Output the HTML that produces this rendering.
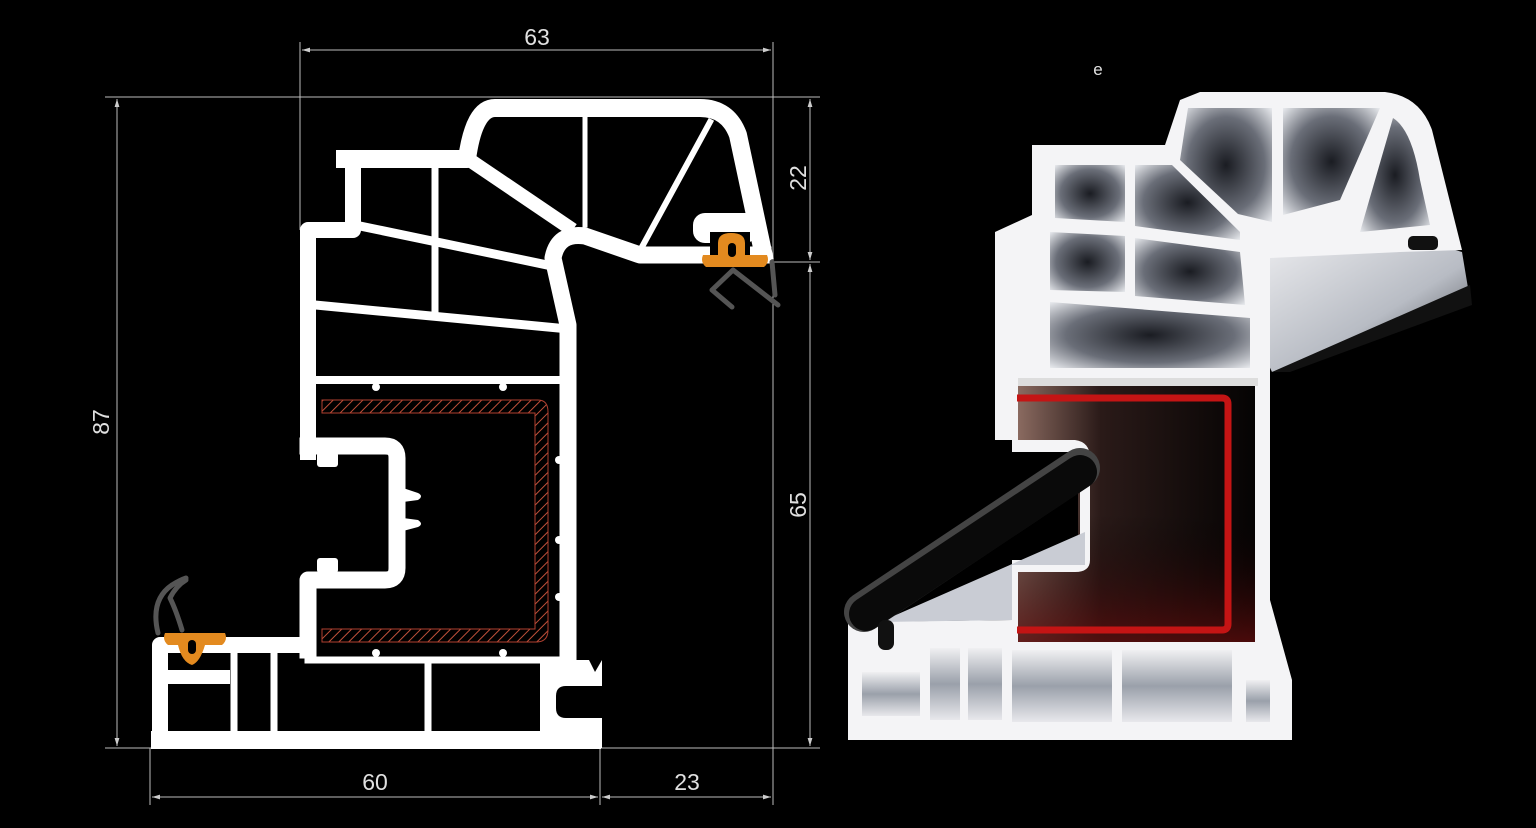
<!DOCTYPE html>
<html><head><meta charset="utf-8"><style>
html,body{margin:0;padding:0;background:#000;}
svg{display:block;}
text{font-family:"Liberation Sans",sans-serif;fill:#e0e0e0;}
</style></head><body>
<svg width="1536" height="828" viewBox="0 0 1536 828" xmlns="http://www.w3.org/2000/svg">
<defs>
<pattern id="hatch" width="7" height="7" patternUnits="userSpaceOnUse" patternTransform="rotate(45)">
<rect width="7" height="7" fill="#000"/><line x1="0" y1="0" x2="0" y2="7" stroke="#c0503a" stroke-width="2"/>
</pattern>
<radialGradient id="cell" cx="50%" cy="50%" r="70%"><stop offset="0" stop-color="#1a1c22"/><stop offset="0.6" stop-color="#6a6e78"/><stop offset="1" stop-color="#e6e8ec"/></radialGradient>
<linearGradient id="cellv" x1="0" y1="0" x2="0" y2="1"><stop offset="0" stop-color="#f0f0f2"/><stop offset="0.5" stop-color="#9aa0aa"/><stop offset="1" stop-color="#e8e8ec"/></linearGradient>
<linearGradient id="chamber" x1="0" y1="0" x2="1" y2="0"><stop offset="0" stop-color="#8a6a60"/><stop offset="0.35" stop-color="#2a1a18"/><stop offset="1" stop-color="#050303"/></linearGradient>
<linearGradient id="chamberB" x1="0" y1="0" x2="0" y2="1"><stop offset="0.5" stop-color="#000" stop-opacity="0"/><stop offset="1" stop-color="#5a0c0c" stop-opacity="0.8"/></linearGradient>
<linearGradient id="wing" x1="0" y1="0" x2="1" y2="1"><stop offset="0" stop-color="#f2f2f4"/><stop offset="0.6" stop-color="#b8bcc4"/><stop offset="1" stop-color="#3a3c42"/></linearGradient>
<marker id="ar" viewBox="0 0 10 10" refX="10" refY="5" markerWidth="8" markerHeight="8" orient="auto-start-reverse"><path d="M0,2 L10,5 L0,8 z" fill="#ccc"/></marker>
</defs>

<g stroke="#bdbdbd" stroke-width="1" fill="none">
<line x1="300" y1="42" x2="300" y2="230"/>
<line x1="773" y1="42" x2="773" y2="805"/>
<line x1="105" y1="97" x2="820" y2="97"/>
<line x1="105" y1="748" x2="820" y2="748"/>
<line x1="765" y1="262" x2="820" y2="262"/>
<line x1="150" y1="748" x2="150" y2="805"/>
<line x1="600" y1="748" x2="600" y2="805"/>
<line x1="302" y1="50" x2="771" y2="50" marker-start="url(#ar)" marker-end="url(#ar)"/>
<line x1="117" y1="99" x2="117" y2="746" marker-start="url(#ar)" marker-end="url(#ar)"/>
<line x1="810" y1="99" x2="810" y2="260" marker-start="url(#ar)" marker-end="url(#ar)"/>
<line x1="810" y1="264" x2="810" y2="746" marker-start="url(#ar)" marker-end="url(#ar)"/>
<line x1="152" y1="797" x2="598" y2="797" marker-start="url(#ar)" marker-end="url(#ar)"/>
<line x1="602" y1="797" x2="771" y2="797" marker-start="url(#ar)" marker-end="url(#ar)"/>
</g>
<text x="537" y="45" font-size="23" text-anchor="middle">63</text>
<text x="375" y="790" font-size="23" text-anchor="middle">60</text>
<text x="687" y="790" font-size="23" text-anchor="middle">23</text>
<text transform="translate(109,422) rotate(-90)" font-size="23" text-anchor="middle">87</text>
<text transform="translate(806,178) rotate(-90)" font-size="23" text-anchor="middle">22</text>
<text transform="translate(806,505) rotate(-90)" font-size="23" text-anchor="middle">65</text>
<text x="1098" y="75" font-size="17" text-anchor="middle" fill="#bbb">e</text>

<g stroke="#fff" fill="none" stroke-linejoin="round" stroke-linecap="square">
<path d="M345,159 L467,159 Q474,108 495,108 L700,108 Q728,108 738,135 L763,252" stroke-width="18"/>
<path d="M763,255 L640,255 L585,236 Q558,232 553,258 L568,325 L568,740" stroke-width="17"/>
<path d="M353,159 L353,230 L308,230 L308,452" stroke-width="16"/>
<path d="M308,380 L568,380" stroke-width="8"/>
<path d="M308,446 L385,446 Q397,446 397,458 L397,568 Q397,580 385,580 L308,580 L308,650" stroke-width="17"/>
<path d="M308,660 L568,660" stroke-width="7"/>
<path d="M160,740 L592,740" stroke-width="18"/>
<path d="M160,740 L160,645 L308,645" stroke-width="16"/>
<path d="M234,645 L234,740 M274,652 L274,740 M428,660 L428,740" stroke-width="7"/>
<path d="M164,677 L230,677" stroke-width="14" stroke-linecap="butt"/>
<path d="M585,112 L585,225" stroke-width="5"/>
<path d="M710,122 L643,245" stroke-width="6"/>
<path d="M477,165 L567,226" stroke-width="14"/>
<path d="M435,165 L435,313" stroke-width="7"/>
<path d="M360,226 L552,266" stroke-width="9"/>
<path d="M315,305 L558,328" stroke-width="9"/>
</g>
<g fill="#fff">
<rect x="317" y="452" width="21" height="15" rx="3"/>
<rect x="317" y="558" width="21" height="15" rx="3"/>
<path d="M403,488 L418,493 Q424,496 418,500 L403,502 z"/>
<path d="M403,518 L418,520 Q424,524 418,527 L403,531 z"/>
<circle cx="376" cy="387" r="4"/><circle cx="503" cy="387" r="4"/>
<circle cx="376" cy="653" r="4"/><circle cx="503" cy="653" r="4"/>
<circle cx="559" cy="460" r="4"/><circle cx="559" cy="540" r="4"/><circle cx="559" cy="597" r="4"/>
<rect x="540" y="660" width="62" height="88"/>
<rect x="693" y="213" width="64" height="30" rx="12"/>
</g>
<path d="M602,686 L566,686 Q556,686 556,696 L556,708 Q556,718 566,718 L602,718 z" fill="#000"/>
<path d="M589,660 L595,672 L602,660 z" fill="#000"/>
<path d="M710,232 L750,232 L750,264 L710,264 z" fill="#000"/>
<path d="M322,400 L538,400 Q548,400 548,412 L548,630 Q548,642 536,642 L322,642 L322,629 L535,629 L535,413 L322,413 z" fill="url(#hatch)" stroke="#b04030" stroke-width="1"/>
<path d="M703,255 L718,255 L718,243 Q718,233 731,233 Q745,233 745,243 L745,255 L767,255 Q770,262 764,267 L706,267 Q700,262 703,255 z" fill="#e38a1f"/>
<rect x="728" y="243" width="8" height="14" rx="4" fill="#000"/>
<path d="M165,633 L225,633 Q228,640 222,645 L205,645 Q200,662 192,665 Q182,662 178,645 L168,645 Q162,640 165,633 z" fill="#e38a1f"/>
<rect x="188" y="640" width="8" height="14" rx="4" fill="#000"/>
<g stroke="#555" stroke-width="5" fill="none" stroke-linecap="round" stroke-linejoin="round">
<path d="M732,307 L712,290 L733,270 L778,305"/>
<path d="M772,262 L775,295"/>
<path d="M158,633 Q150,600 172,585 Q180,580 186,578"/>
<path d="M182,630 Q176,610 170,598 Q176,586 186,580"/>
</g>

<path d="M1245,236 L1395,232 L1462,252 L1470,300 L1272,372 L1252,330 z" fill="url(#wing)"/>
<path d="M1272,372 L1470,285 L1472,305 L1290,372 z" fill="#111"/>
<path d="M1032,145 L1165,145 L1180,100 L1200,92 L1385,92 Q1420,96 1432,130 L1462,250 L1400,252 L1270,258 L1270,600 L1292,680 L1292,740 L848,740 L848,622 L1012,620 L1012,565 L1085,565 L1085,450 L1015,450 L1015,440 L995,440 L995,232 L1032,215 z" fill="#f4f4f6"/>
<g fill="url(#cell)">
<path d="M1055,165 L1125,165 L1125,222 L1055,218 z"/>
<path d="M1135,165 L1172,165 L1240,232 L1240,240 L1135,226 z"/>
<path d="M1050,232 L1125,236 L1125,292 L1050,290 z"/>
<path d="M1135,238 L1240,252 L1245,305 L1135,296 z"/>
<path d="M1050,302 L1250,318 L1250,368 L1050,368 z"/>
<path d="M1188,108 L1272,108 L1272,222 L1238,214 L1180,160 z"/>
<path d="M1283,108 L1380,108 L1340,200 L1283,215 z"/>
<path d="M1393,118 Q1412,130 1420,180 L1430,225 L1360,232 z"/>
</g>
<rect x="1408" y="236" width="30" height="14" rx="5" fill="#111"/>
<rect x="1018" y="378" width="240" height="8" fill="#ddd"/>
<rect x="1018" y="386" width="237" height="256" fill="url(#chamber)"/>
<rect x="1018" y="386" width="237" height="256" fill="url(#chamberB)"/>
<path d="M1012,440 L1075,440 Q1090,442 1090,458 L1090,560 Q1090,572 1075,572 L1012,572 L1012,560 L1080,560 L1080,452 L1012,452 z" fill="#f4f4f6"/>
<path d="M1015,452 L1078,452 L1078,560 L1015,560 z" fill="#000"/>
<path d="M1017,398 L1222,398 Q1228,398 1228,404 L1228,624 Q1228,630 1222,630 L1017,630" fill="none" stroke="#c41414" stroke-width="7"/>
<g fill="url(#cellv)">
<rect x="862" y="672" width="58" height="44"/>
<rect x="930" y="648" width="30" height="72"/>
<rect x="968" y="648" width="34" height="72"/>
<rect x="1012" y="650" width="100" height="72"/>
<rect x="1122" y="650" width="110" height="72"/>
<rect x="1246" y="680" width="24" height="42"/>
</g>
<path d="M880,622 L1085,532 L1085,565 L1012,565 L1012,620 z" fill="#c9ccd4"/>
<line x1="864" y1="612" x2="1080" y2="468" stroke="#444" stroke-width="40" stroke-linecap="round"/>
<line x1="866" y1="614" x2="1080" y2="472" stroke="#0a0a0a" stroke-width="34" stroke-linecap="round"/>
<rect x="878" y="620" width="16" height="30" rx="7" fill="#111"/>
</svg>
</body></html>
